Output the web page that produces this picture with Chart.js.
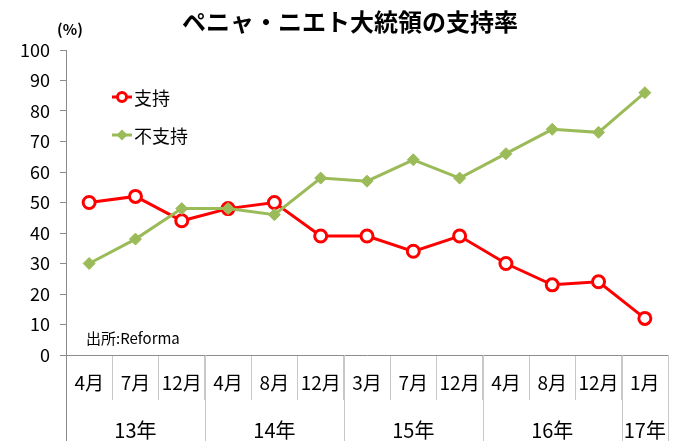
<!DOCTYPE html>
<html>
<head>
<meta charset="utf-8">
<script src="https://cdn.jsdelivr.net/npm/chart.js@4/dist/chart.umd.min.js"></script>
<style>
  html, body { margin: 0; padding: 0; background: #fff; overflow: hidden; }
</style>
</head>
<body>
<canvas id="approvalChart" width="677" height="441"></canvas>
<script>
const titleText = 'ペニャ・ニエト大統領の支持率';
const months = ['4月', '7月', '12月', '4月', '8月', '12月', '3月', '7月', '12月', '4月', '8月', '12月', '1月'];
const yearLabels = ['13年', '14年', '15年', '16年', '17年'];
const yearCounts = [3, 3, 3, 3, 1];
const supportValues = [50, 52, 44, 48, 50, 39, 39, 34, 39, 30, 23, 24, 12];
const opposeValues = [30, 38, 48, 48, 46, 58, 57, 64, 58, 66, 74, 73, 86];

const jpFont = '"Noto Sans CJK JP", "Noto Sans", sans-serif';
const axisGrey = '#8c8c8c';
const sepGrey = '#c8c8c8';

// title, unit, source note, legend and the year row under the months
const decorPlugin = {
    id: 'decor',
    afterDraw(chart) {
        const { ctx, chartArea } = chart;
        const x = chart.scales.x;
        ctx.save();

        ctx.fillStyle = '#000';
        ctx.textAlign = 'center';
        ctx.textBaseline = 'middle';
        ctx.font = 'bold 24px ' + jpFont;
        ctx.fillText(titleText, 350, 22);

        ctx.font = 'bold 15px ' + jpFont;
        ctx.fillText('(%)', 70, 29);

        ctx.textAlign = 'left';
        ctx.font = '15px ' + jpFont;
        ctx.fillText('出所:Reforma', 86, 338);

        // legend
        ctx.font = '18px ' + jpFont;
        chart.data.datasets.forEach((ds, i) => {
            const ly = 97 + i * 38;
            ctx.strokeStyle = ds.borderColor;
            ctx.lineWidth = 3;
            ctx.beginPath();
            ctx.moveTo(112, ly);
            ctx.lineTo(132, ly);
            ctx.stroke();
            if (ds.pointStyle === 'circle') {
                ctx.fillStyle = '#fff';
                ctx.beginPath();
                ctx.arc(122, ly, 4.5, 0, Math.PI * 2);
                ctx.fill();
                ctx.stroke();
            } else {
                ctx.fillStyle = ds.borderColor;
                ctx.beginPath();
                ctx.moveTo(122, ly - 5.5);
                ctx.lineTo(127.5, ly);
                ctx.lineTo(122, ly + 5.5);
                ctx.lineTo(116.5, ly);
                ctx.closePath();
                ctx.fill();
            }
            ctx.fillStyle = '#000';
            ctx.fillText(ds.label, 134, ly + 1);
        });

        // year groups
        const half = (x.getPixelForValue(1) - x.getPixelForValue(0)) / 2;
        let start = 0;
        ctx.strokeStyle = sepGrey;
        ctx.lineWidth = 1;
        ctx.textAlign = 'center';
        ctx.font = '20px ' + jpFont;
        yearLabels.forEach((label, i) => {
            const end = start + yearCounts[i] - 1;
            const left = x.getPixelForValue(start) - half;
            const right = x.getPixelForValue(end) + half;
            ctx.beginPath();
            ctx.moveTo(Math.round(right) + 0.5, chartArea.bottom);
            ctx.lineTo(Math.round(right) + 0.5, chart.height);
            ctx.stroke();
            ctx.fillText(label, (left + right) / 2, 430);
            start = end + 1;
        });
        // left edge continues down
        ctx.strokeStyle = axisGrey;
        ctx.beginPath();
        ctx.moveTo(Math.round(chartArea.left) + 0.5, chartArea.bottom);
        ctx.lineTo(Math.round(chartArea.left) + 0.5, chart.height);
        ctx.stroke();
        ctx.restore();
    }
};

const ctx = document.getElementById('approvalChart').getContext('2d');
const approvalChart = new Chart(ctx, {
    type: 'line',
    data: {
        labels: months,
        datasets: [
            {
                label: '支持',
                data: supportValues,
                borderColor: '#ff0000',
                backgroundColor: '#ffffff',
                borderWidth: 3,
                pointStyle: 'circle',
                pointRadius: 6,
                pointBorderWidth: 3,
                tension: 0,
                order: 1,
            },
            {
                label: '不支持',
                data: opposeValues,
                borderColor: '#9bbb59',
                backgroundColor: '#9bbb59',
                borderWidth: 3,
                pointStyle: 'rectRot',
                pointRadius: 6,
                pointBorderWidth: 1,
                tension: 0,
                order: 0,
            },
        ],
    },
    options: {
        responsive: false,
        animation: false,
        devicePixelRatio: 1,
        layout: { padding: { top: 50, left: 0, right: 0, bottom: 0 } },
        plugins: {
            legend: { display: false },
            tooltip: { enabled: false },
        },
        scales: {
            x: {
                offset: true,
                grid: {
                    offset: true,
                    drawOnChartArea: false,
                    tickLength: 45,
                    color: sepGrey,
                },
                border: { color: axisGrey },
                ticks: {
                    color: '#000',
                    padding: -29,
                    maxRotation: 0,
                    autoSkip: false,
                    font: { family: jpFont, size: 19 },
                },
                afterFit(scale) { scale.height = 86; },
            },
            y: {
                min: 0,
                max: 100,
                grid: {
                    drawOnChartArea: false,
                    tickLength: 6,
                    color: axisGrey,
                },
                border: { color: axisGrey },
                ticks: {
                    stepSize: 10,
                    color: '#000',
                    padding: 10,
                    font: { family: jpFont, size: 18 },
                },
                afterFit(scale) { scale.width = 66; },
            },
        },
    },
    plugins: [decorPlugin],
});
</script>
</body>
</html>
